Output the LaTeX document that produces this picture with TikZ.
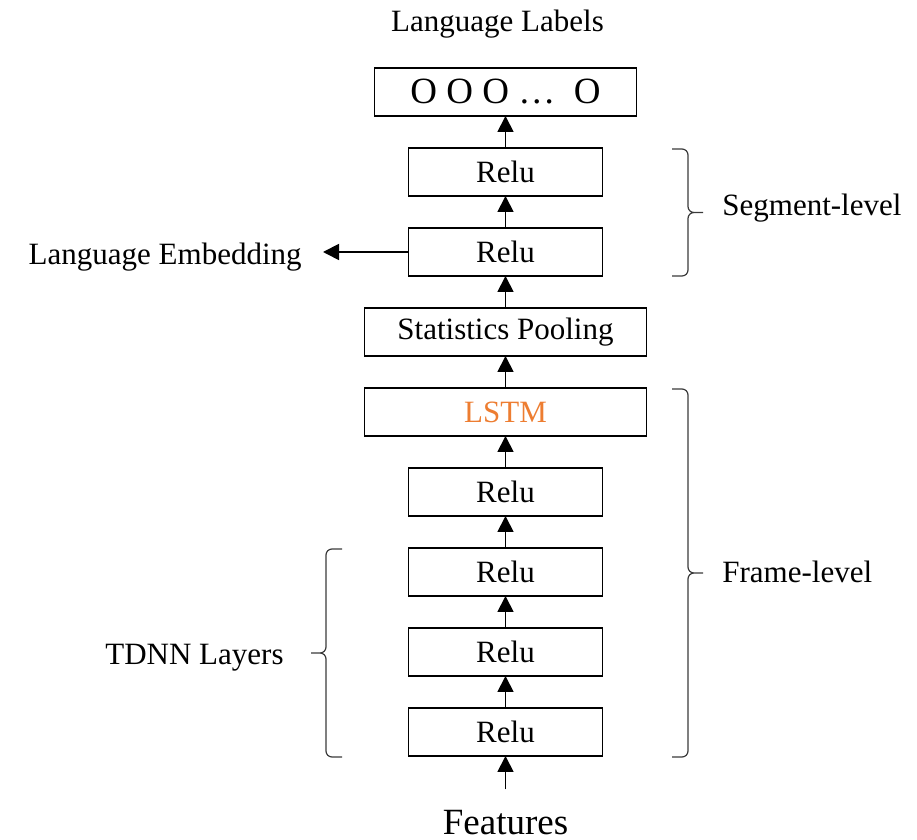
\documentclass[tikz,border=0pt]{standalone}
\usepackage{fontspec}
\setmainfont{Liberation Serif}
\usepackage{xcolor}
\usepackage{tikz}
\usetikzlibrary{positioning, arrows.meta}
\definecolor{ink}{HTML}{000000}
\definecolor{lstmorange}{HTML}{ED7D31}
\definecolor{bracegray}{HTML}{3A3A3A}
\tikzset{
  layer/.style     = {rectangle, draw=ink, line width=0.85pt, outer sep=0pt,
                      minimum width=97pt, minimum height=24pt, inner sep=0pt,
                      align=center, font=\fontsize{15.5}{18}\selectfont},
  widelayer/.style = {layer, minimum width=141pt},
  outlayer/.style  = {layer, minimum width=131pt, font=\fontsize{18.5}{22}\selectfont},
  lbl/.style       = {inner sep=0pt, font=\fontsize{15.5}{18}\selectfont},
  biglbl/.style    = {inner sep=0pt, font=\fontsize{18.5}{22}\selectfont},
  ar/.style        = {-{Triangle[length=8pt,width=8pt]}, line width=0.9pt, draw=ink},
  brc/.style       = {line width=0.6pt, draw=bracegray, rounded corners=3pt},
}

\begin{document}
\begin{tikzpicture}[x=0.5pt, y=0.5pt, node distance=16pt]
  \useasboundingbox (0,0) rectangle (917,840);

  % layer stack, bottom to top
  \node[layer] (fr1) at (505.5,108) {Relu};
  \node[layer, above=of fr1] (fr2) {Relu};
  \node[layer, above=of fr2] (fr3) {Relu};
  \node[layer, above=of fr3] (fr4) {Relu};
  \node[widelayer, above=of fr4, text=lstmorange] (lstm) {LSTM};
  \node[widelayer, above=of lstm] (pool) {Statistics Pooling};
  \node[layer, above=of pool] (seg1) {Relu};
  \node[layer, above=of seg1] (seg2) {Relu};
  \node[outlayer, above=of seg2] (out) {O O O … \ O};

  \foreach \a/\b in {fr1/fr2, fr2/fr3, fr3/fr4, fr4/lstm, lstm/pool, pool/seg1, seg1/seg2, seg2/out}
    {\draw[ar] (\a) -- (\b);}

  % input and outputs
  \node[biglbl, anchor=base, inner ysep=10.5pt] (feat) at (505.5,5) {Features};
  \draw[ar] (feat) -- (fr1);
  \node[lbl, anchor=base] (labels) at ([xshift=-4pt, yshift=18pt]out.north) {Language Labels};
  \node[lbl, anchor=base east, inner xsep=10.5pt] (emb) at (323,575) {Language Embedding};
  \draw[ar] (seg1.west) -- (seg1.west -| emb.east);

  % braces: tip line x / top / bottom / side
  \foreach \xa/\yt/\yb/\s in {672/691/564/1, 672/451/83/1, 342/291/83/-1}{
    \pgfmathsetmacro\ym{(\yt+\yb)/2}
    \draw[brc] (\xa,\yt) -- ({\xa+16*\s},\yt) -- ({\xa+16*\s},\ym) -- ({\xa+31*\s},\ym)
               ({\xa+31*\s},\ym) -- ({\xa+16*\s},\ym) -- ({\xa+16*\s},\yb) -- (\xa,\yb);
  }
  \node[lbl, anchor=base west] (seglvl) at (722,624) {Segment-level};
  \node[lbl, anchor=base west] (frmlvl) at (722,257) {Frame-level};
  \node[lbl, anchor=base east] (tdnn) at (284,175) {TDNN Layers};

\end{tikzpicture}
\end{document}
